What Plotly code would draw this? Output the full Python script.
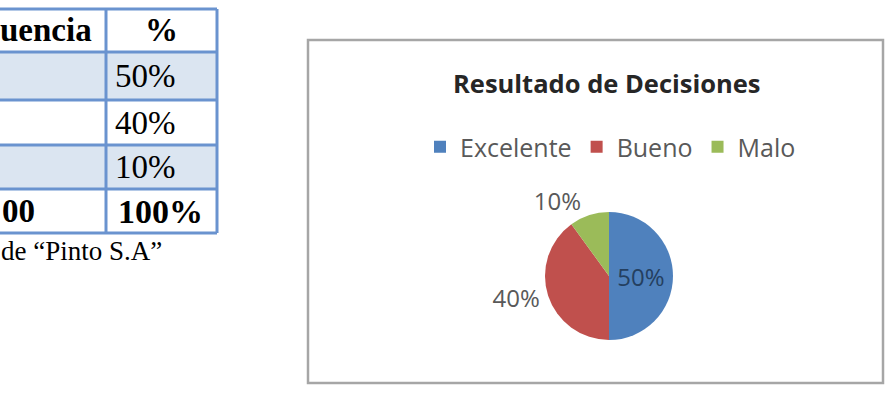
import plotly.graph_objects as go

# ---- data ----
categories = ["Excelente", "Bueno", "Malo"]
values = [50, 40, 10]
pie_colors = ["#4f81bd", "#c0504d", "#9bbb59"]
chart_title = "Resultado de Decisiones"
header_left = "uencia"      # visible (cropped) part of the header
header_right = "%"
total_left = "00"           # visible (cropped) part of the total
footer_text = "de \u201cPinto S.A\u201d"

W, H = 885, 397


def px(x):
    return x / W


def py(y):
    return 1 - y / H


fig = go.Figure()

# ---- pie ----
cx, cy, half = 609, 276, 64
fig.add_trace(go.Pie(
    labels=categories, values=values, sort=False, direction="clockwise", rotation=0,
    marker=dict(colors=pie_colors, line=dict(width=0)),
    texttemplate="%{percent:.0%}",
    textposition=["inside", "outside", "outside"],
    insidetextorientation="horizontal",
    insidetextfont=dict(color="#243f60", size=24, family="Open Sans"),
    outsidetextfont=dict(color="#595959", size=24, family="Open Sans"),
    domain=dict(x=[px(cx - half), px(cx + half)], y=[py(cy + half), py(cy - half)]),
    hoverinfo="skip", showlegend=True,
))

shapes = []
annotations = []

# ---- chart box ----
shapes.append(dict(type="rect", xref="paper", yref="paper",
                   x0=px(308), x1=px(883), y0=py(383), y1=py(40),
                   line=dict(color="#a6a6a6", width=2.5), layer="below"))

annotations.append(dict(text=chart_title, xref="paper", yref="paper",
                        x=px(607), y=py(83), xanchor="center", yanchor="middle",
                        showarrow=False,
                        font=dict(family="Open Sans", size=25.5, color="#262626", weight="bold")))

# ---- table ----
row_edges = [9, 52, 100, 145, 189, 233]
col_div, right_edge, left_edge = 106, 217, -5
border = "#6a93cf"
shade = "#dbe5f1"

# shaded rows (1st and 3rd data rows)
for i in (1, 3):
    shapes.append(dict(type="rect", xref="paper", yref="paper",
                       x0=px(left_edge), x1=px(right_edge),
                       y0=py(row_edges[i + 1]), y1=py(row_edges[i]),
                       fillcolor=shade, line=dict(width=0), layer="below"))
for y in row_edges:
    shapes.append(dict(type="line", xref="paper", yref="paper",
                       x0=px(left_edge), x1=px(right_edge), y0=py(y), y1=py(y),
                       line=dict(color=border, width=3)))
for x in (col_div, right_edge):
    shapes.append(dict(type="line", xref="paper", yref="paper",
                       x0=px(x), x1=px(x), y0=py(row_edges[0]), y1=py(row_edges[-1]),
                       line=dict(color=border, width=3)))

serif = "Liberation Serif"
centers = [(row_edges[i] + row_edges[i + 1]) / 2 for i in range(len(row_edges) - 1)]

annotations.append(dict(text=header_left, xref="paper", yref="paper",
                        x=px(94), y=py(centers[0]), xanchor="right", yanchor="middle",
                        showarrow=False, font=dict(family=serif, size=33, color="black", weight="bold")))
annotations.append(dict(text=header_right, xref="paper", yref="paper",
                        x=px(161), y=py(centers[0]), xanchor="center", yanchor="middle",
                        showarrow=False, font=dict(family=serif, size=33, color="black", weight="bold")))
for i, v in enumerate(values):
    annotations.append(dict(text=f"{v}%", xref="paper", yref="paper",
                            x=px(113), y=py(centers[i + 1]), xanchor="left", yanchor="middle",
                            showarrow=False, font=dict(family=serif, size=33, color="black")))
annotations.append(dict(text=total_left, xref="paper", yref="paper",
                        x=px(37), y=py(centers[4]), xanchor="right", yanchor="middle",
                        showarrow=False, font=dict(family=serif, size=33, color="black", weight="bold")))
annotations.append(dict(text=f"{sum(values)}%", xref="paper", yref="paper",
                        x=px(160), y=py(centers[4]), xanchor="center", yanchor="middle",
                        showarrow=False, font=dict(family=serif, size=34, color="black", weight="bold")))
annotations.append(dict(text=footer_text, xref="paper", yref="paper",
                        x=px(-1), y=py(251), xanchor="left", yanchor="middle",
                        showarrow=False, font=dict(family=serif, size=27, color="black")))

fig.update_layout(
    width=W, height=H,
    margin=dict(l=0, r=0, t=0, b=0),
    paper_bgcolor="white", plot_bgcolor="white",
    shapes=shapes, annotations=annotations,
    legend=dict(orientation="h", x=px(420), y=py(147), xanchor="left", yanchor="middle",
                font=dict(family="Open Sans", size=25, color="#595959"),
                bgcolor="rgba(0,0,0,0)", traceorder="normal"),
)

fig.write_html("out.html")
